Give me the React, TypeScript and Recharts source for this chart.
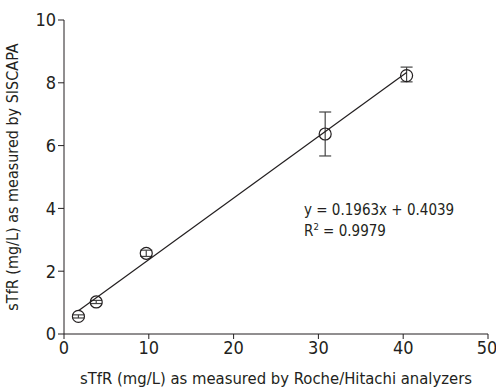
import {
  ErrorBar,
  Label,
  Scatter,
  ScatterChart,
  XAxis,
  YAxis,
} from "recharts";

// x: Roche/Hitachi, y: SISCAPA, err: [below, above]
const rocheValues = [1.7, 3.8, 9.7, 30.8, 40.4];
const siscapaValues = [0.56, 1.02, 2.57, 6.37, 8.23];
const errorLow = [0.05, 0.05, 0.1, 0.7, 0.2];
const errorHigh = [0.05, 0.05, 0.1, 0.7, 0.27];

const fitX = [1.7, 40.4];
const fitY = [0.74, 8.33];

const xTicks = [0, 10, 20, 30, 40, 50];
const yTicks = [0, 2, 4, 6, 8, 10];

const FONT = '"DejaVu Sans Condensed", "Liberation Sans Narrow", sans-serif';
const INK = "#231f20";

const points = rocheValues.map((x, i) => ({
  x,
  y: siscapaValues[i],
  err: [errorLow[i], errorHigh[i]],
}));

const fitLine = fitX.map((x, i) => ({ x, y: fitY[i] }));

function Ring(props: any) {
  const { cx, cy } = props;
  return <circle cx={cx} cy={cy} r={6} fill="none" stroke={INK} strokeWidth={1.2} />;
}

const tickStyle = { fontSize: 18, fill: INK, fontFamily: FONT };

export default function App() {
  return (
    <div style={{ position: "absolute", left: 0, top: 0, background: "#fff" }}>
      <ScatterChart
        width={496}
        height={389}
        margin={{ top: 20, right: 8, bottom: 0, left: 0 }}
        style={{ fontFamily: FONT }}
      >
        <XAxis
          type="number"
          dataKey="x"
          domain={[0, 50]}
          ticks={xTicks}
          height={55}
          tickSize={5}
          stroke={INK}
          tick={tickStyle}
          fontSize={18}
        >
          <Label
            value="sTfR (mg/L) as measured by Roche/Hitachi analyzers"
            position="insideBottom"
            offset={5}
            style={{ fontSize: 16.5, fill: INK }}
          />
        </XAxis>
        <YAxis
          type="number"
          dataKey="y"
          domain={[0, 10]}
          ticks={yTicks}
          width={64}
          tickSize={6}
          stroke={INK}
          tick={tickStyle}
          fontSize={18}
        >
          <Label
            value="sTfR (mg/L) as measured by SISCAPA"
            angle={-90}
            position="insideLeft"
            offset={12}
            style={{ fontSize: 16, fill: INK, textAnchor: "middle" }}
          />
        </YAxis>
        <Scatter
          data={fitLine}
          line={{ stroke: INK, strokeWidth: 1.2 }}
          shape={() => <g />}
          isAnimationActive={false}
        />
        <Scatter data={points} shape={Ring} isAnimationActive={false}>
          <ErrorBar
            dataKey="err"
            direction="y"
            width={6}
            stroke="#444"
            strokeWidth={1.2}
          />
        </Scatter>
        <text x={304} y={215} fontSize={15} fill={INK} fontFamily={FONT}>
          y = 0.1963x + 0.4039
        </text>
        <text x={304} y={236} fontSize={15} fill={INK} fontFamily={FONT}>
          R<tspan fontSize={9.5} dy={-6}>2</tspan>
          <tspan dy={6}> = 0.9979</tspan>
        </text>
      </ScatterChart>
    </div>
  );
}
